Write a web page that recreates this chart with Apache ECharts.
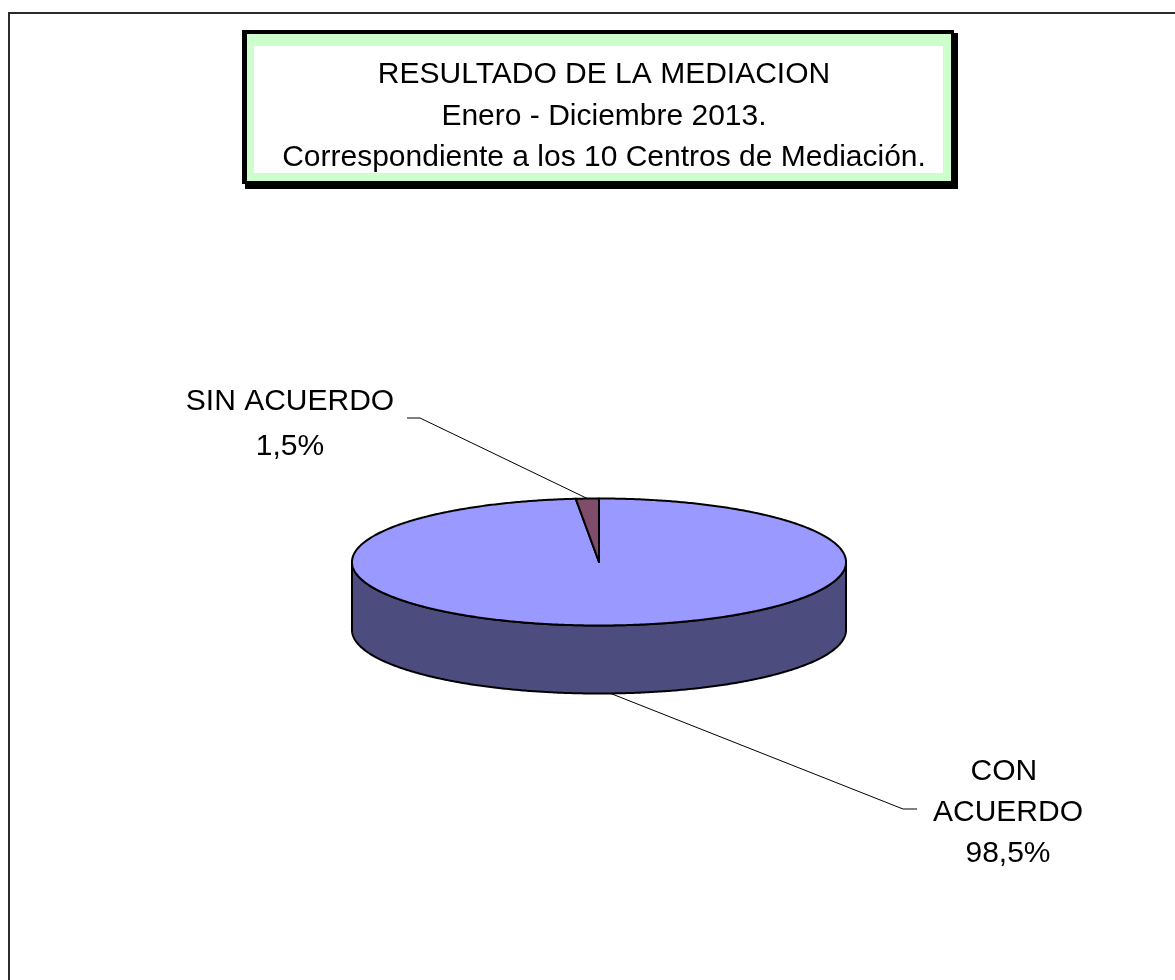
<!DOCTYPE html>
<html>
<head>
<meta charset="utf-8">
<script src="https://cdn.jsdelivr.net/npm/echarts@6/dist/echarts.min.js"></script>
<style>
  html, body { margin: 0; padding: 0; background: #fff; }
  #chart { width: 1175px; height: 980px; }
</style>
</head>
<body>
<div id="chart"></div>
<script>
// datos del grafico
const categories = ['CON ACUERDO', 'SIN ACUERDO'];
const values = [98.5, 1.5];
const titleLines = [
  'RESULTADO DE LA MEDIACION',
  'Enero - Diciembre 2013.',
  'Correspondiente a los 10 Centros de Mediación.'
];

// colores: cara superior y lateral
const topColors = ['#9999ff', '#7f4d69'];
const sideColors = ['#4c4c7f', '#4a2d3d'];

// geometria de la torta 3D
const PIE = { cx: 599, cy: 562, rx: 247, ry: 63.5, depth: 68 };
// posicion de las etiquetas (anchor = 'top' o 'bottom' del cilindro)
const LABELS = [
  { x: 1008, y: 751, width: 170, lineHeight: 41, bend: [903, 809], end: [917, 809], anchor: 'bottom' },
  { x: 290, y: 379, width: 250, lineHeight: 45, bend: [420, 418], end: [407, 418], anchor: 'top' }
];

const FONT = '"Liberation Sans", Arial, sans-serif';

const total = values.reduce((a, b) => a + b, 0);
const startAngles = [];
values.reduce((acc, v) => { startAngles.push(acc); return acc + v / total * 360; }, 0);

function pt(deg, dy) {
  const r = deg * Math.PI / 180;
  return [PIE.cx + PIE.rx * Math.sin(r), PIE.cy - PIE.ry * Math.cos(r) + (dy || 0)];
}

function arc(a0, a1, dy) {
  const pts = [];
  const n = Math.max(2, Math.ceil(Math.abs(a1 - a0) / 0.5));
  for (let i = 0; i <= n; i++) pts.push(pt(a0 + (a1 - a0) * i / n, dy));
  return pts;
}

function fmt(v) {
  return (v / total * 100).toFixed(1).replace('.', ',') + '%';
}

function renderItem(params, api) {
  const i = params.dataIndex;
  const v = api.value(0);
  const a0 = startAngles[i];
  const a1 = a0 + v / total * 360;
  const children = [];

  // pared lateral visible (mitad delantera)
  const s0 = Math.max(a0, 90), s1 = Math.min(a1, 270);
  if (s1 > s0) {
    const upper = arc(s0, s1, 0);
    const lower = arc(s1, s0, PIE.depth);
    children.push({
      type: 'polygon',
      shape: { points: upper.concat(lower) },
      style: { fill: sideColors[i], stroke: '#000', lineWidth: 2, lineJoin: 'round' }
    });
  }

  // cara superior
  children.push({
    type: 'polygon',
    shape: { points: [[PIE.cx, PIE.cy]].concat(arc(a0, a1, 0)) },
    style: { fill: topColors[i], stroke: '#000', lineWidth: 2, lineJoin: 'round' }
  });

  // linea guia y etiqueta
  const lab = LABELS[i];
  const mid = (a0 + a1) / 2;
  const anchor = pt(mid, lab.anchor === 'bottom' ? PIE.depth : 0);
  children.push({
    type: 'polyline',
    shape: { points: [anchor, lab.bend, lab.end] },
    style: { stroke: '#000', lineWidth: 1, fill: null },
    z2: 10
  });
  children.push({
    type: 'text',
    x: lab.x,
    y: lab.y,
    style: {
      text: categories[i] + '\n' + fmt(v),
      width: lab.width,
      overflow: 'break',
      align: 'center',
      verticalAlign: 'top',
      font: '30px ' + FONT,
      lineHeight: lab.lineHeight,
      fill: '#000'
    },
    z2: 10
  });

  return { type: 'group', children: children };
}

const chart = echarts.init(document.getElementById('chart'), null, { renderer: 'canvas' });

chart.setOption({
  animation: false,
  backgroundColor: '#fff',
  title: {
    text: titleLines.join('\n'),
    left: 599,
    top: 49,
    textAlign: 'center',
    textStyle: {
      fontFamily: FONT,
      fontSize: 30,
      fontWeight: 'normal',
      lineHeight: 41.5,
      color: '#000',
      align: 'center'
    }
  },
  graphic: [
    // marco exterior
    { type: 'rect', shape: { x: 9, y: 13, width: 1300, height: 1100 }, style: { fill: null, stroke: '#2b2b2b', lineWidth: 2 }, z: -10 },
    // caja del titulo
    { type: 'rect', shape: { x: 245, y: 33, width: 713, height: 156 }, style: { fill: '#000' }, z: -5 },
    { type: 'rect', shape: { x: 242, y: 30, width: 712, height: 154 }, style: { fill: '#000' }, z: -5 },
    { type: 'rect', shape: { x: 247, y: 34, width: 704, height: 147 }, style: { fill: '#ccffcc' }, z: -5 },
    { type: 'rect', shape: { x: 254, y: 46, width: 689, height: 127 }, style: { fill: '#fff' }, z: -5 }
  ],
  series: [{
    type: 'custom',
    coordinateSystem: 'none',
    renderItem: renderItem,
    data: values.map((v, i) => ({ name: categories[i], value: [v] }))
  }]
});
</script>
</body>
</html>
